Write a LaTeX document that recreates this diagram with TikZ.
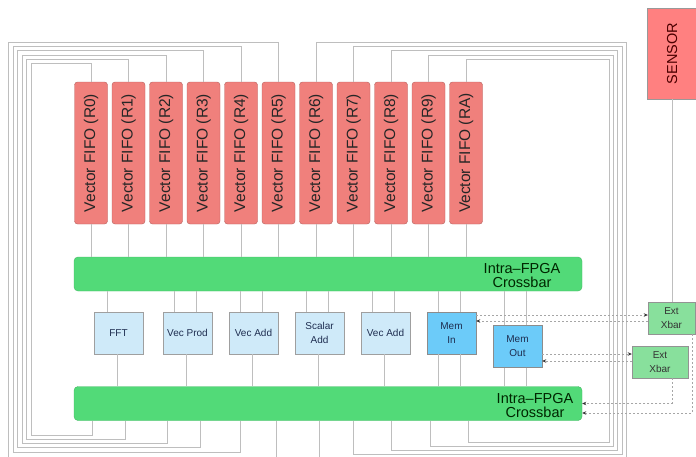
\documentclass[tikz,border=0pt]{standalone}
\usepackage{fontspec}
\setmainfont{Liberation Sans}
\usetikzlibrary{arrows.meta,calc}
\definecolor{fifoRed}{RGB}{240,128,124}
\definecolor{sensorRed}{RGB}{255,128,128}
\definecolor{xbarGreen}{RGB}{82,218,120}
\definecolor{extGreen}{RGB}{136,224,156}
\definecolor{fuBlue}{RGB}{207,234,249}
\definecolor{memBlue}{RGB}{108,203,249}
\definecolor{wireGray}{RGB}{190,190,190}
\definecolor{fuText}{RGB}{30,45,80}

\begin{document}
\begin{tikzpicture}[x=1pt,y=-1pt,
  fifo/.style={rectangle,draw=fifoRed!75!black,fill=fifoRed,rounded corners=3pt,
               minimum width=33pt,minimum height=142pt,inner sep=0pt,text=black!85,
               font=\fontsize{15.5}{18}\selectfont},
  sensor/.style={rectangle,draw=gray!80,fill=sensorRed,minimum width=50pt,
                 minimum height=91pt,inner sep=0pt,text=red!30!black,
                 font=\fontsize{14.5}{17}\selectfont},
  xbar/.style={rectangle,draw=xbarGreen!85!black,fill=xbarGreen,rounded corners=4pt,
               minimum width=508pt,minimum height=34pt},
  xbartext/.style={align=center,inner sep=0pt,text=green!15!black,
                   font=\fontsize{14.5}{14}\selectfont},
  fu/.style={rectangle,draw=gray!75,fill=fuBlue,minimum width=49pt,minimum height=42pt,
             inner sep=1pt,align=center,text=fuText,font=\fontsize{10}{14}\selectfont},
  mem/.style={fu,fill=memBlue,draw=gray!90},
  ext/.style={rectangle,draw=gray!85,fill=extGreen,minimum width=47pt,minimum height=32pt,
              inner sep=1pt,align=center,text=black!80,font=\fontsize{10}{14}\selectfont},
  wire/.style={draw=wireGray,line width=1pt},
  link/.style={draw=gray!70,line width=0.9pt,dash pattern=on 2pt off 2pt,
               -{Stealth[length=4pt,width=3.5pt,color=black!80]}}
]
  \clip (0,0) rectangle (696,456);

  \foreach \i/\lbl in {0/0,1/1,2/2,3/3,4/4,5/5,6/6,7/7,8/8,9/9,10/A}
    \node[fifo] (r\i) at ({91+37.5*\i},153) {\rotatebox{90}{Vector FIFO (R\lbl)}};
  \node[sensor] (sensor) at (672,53.5) {\rotatebox{90}{SENSOR}};

  \node[xbar] (xbarup) at (328,274) {};
  \node[xbartext] (xbarupT) at (522,276) {Intra--FPGA\\Crossbar};
  \node[xbar] (xbarlo) at (328,403.5) {};
  \node[xbartext] (xbarloT) at (535,405) {Intra--FPGA\\Crossbar};

  \node[fu]  (fft)    at (118.5,333)   {FFT};
  \node[fu]  (vprod)  at (187.5,333)   {Vec Prod};
  \node[fu]  (vadd)   at (253.5,333)   {Vec Add};
  \node[fu]  (sadd)   at (319.5,333)   {Scalar\\Add};
  \node[fu]  (vadd2)  at (385.5,333)   {Vec Add};
  \node[mem] (memin)  at (451.5,333)   {Mem\\In};
  \node[mem] (memout) at (517.5,346.5) {Mem\\Out};
  \node[ext] (ext1)   at (671.5,318)   {Ext\\Xbar};
  \node[ext,minimum width=56pt] (ext2) at (660,362) {Ext\\Xbar};

  \foreach \i in {0,...,10}
    \draw[wire] (r\i.south) -- (r\i.south |- xbarup.north);

  \draw[wire] ([xshift=-11pt]fft.north) -- ([xshift=-11pt]fft.north |- xbarup.south);
  \foreach \u in {vprod,vadd,sadd,vadd2,memin,memout} {
    \draw[wire] ([xshift=-13pt]\u.north) -- ([xshift=-13pt]\u.north |- xbarup.south);
    \draw[wire] ([xshift=9pt]\u.north) -- ([xshift=9pt]\u.north |- xbarup.south);
  }
  \foreach \u in {fft,vprod,vadd,sadd,vadd2}
    \draw[wire] ([xshift=-1pt]\u.south) -- ([xshift=-1pt]\u.south |- xbarlo.north);
  \foreach \u in {memin,memout} {
    \draw[wire] ([xshift=-13pt]\u.south) -- ([xshift=-13pt]\u.south |- xbarlo.north);
    \draw[wire] ([xshift=9pt]\u.south) -- ([xshift=9pt]\u.south |- xbarlo.north);
  }

  \foreach \i/\xl/\yt/\xb/\yb in {0/31/63/92/435, 1/26.5/59/125/439, 2/22/55/167/443,
      3/17.5/50.5/200/447.5, 4/13/46/240/452, 5/8.5/42/276/457,
      6/626/42/319/458, 7/622/46/353/454, 8/617.5/50.5/391/450,
      9/613/55/430/446, 10/609/59.5/468/442} {
    \coordinate (lp\i) at (\xb,\yb);
    \draw[wire] (r\i.north) |- (\xl,\yt) |- (lp\i) -- (lp\i |- xbarlo.south);
  }

  \draw[wire] (sensor.south) -- (sensor.south |- ext1.north);

  \draw[link] ([yshift=3pt]ext1.west -| memin.east) -- ([yshift=3pt]ext1.west);
  \draw[link] ([yshift=-3pt]ext1.west) -- ([yshift=-3pt]ext1.west -| memin.east);
  \draw[link] ([yshift=8pt]ext2.west -| memout.east) -- ([yshift=8pt]ext2.west);
  \draw[link] ([yshift=1pt]ext2.west) -- ([yshift=1pt]ext2.west -| memout.east);
  \draw[link] ([xshift=12pt]ext2.south) |- (xbarlo.east);
  \draw[link] ([xshift=20.5pt]ext1.south) |- ([yshift=-9.5pt]xbarlo.east);
\end{tikzpicture}
\end{document}
